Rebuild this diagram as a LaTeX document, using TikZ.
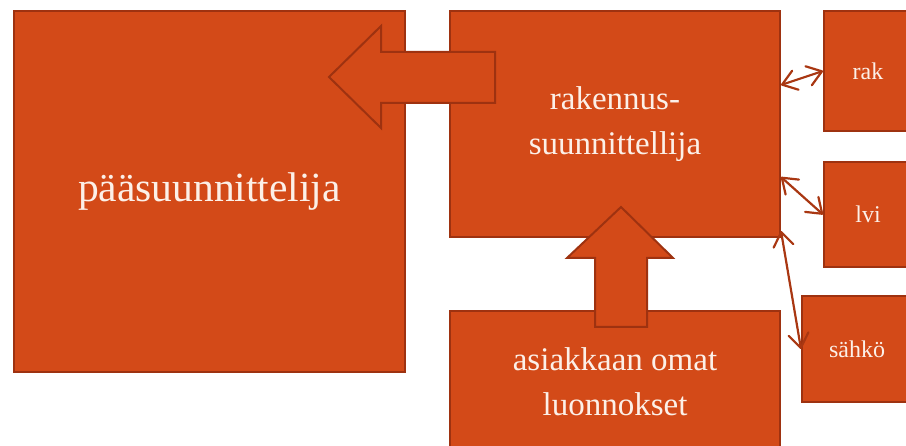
\documentclass[tikz,border=0pt]{standalone}
\usepackage{fontspec}
\setmainfont{Liberation Serif}
\usetikzlibrary{arrows.meta}
\definecolor{boxfill}{RGB}{211,74,24}
\definecolor{boxedge}{RGB}{158,50,16}
\definecolor{txt}{RGB}{252,240,232}
\tikzset{
  box/.style={rectangle, fill=boxfill, draw=boxedge, line width=2pt, text=txt, align=center, inner sep=0pt},
  big/.style={font=\fontsize{41.5}{48}\selectfont},
  mid/.style={font=\fontsize{33}{45}\selectfont},
  small/.style={font=\fontsize{24}{28}\selectfont},
  blockarrow/.style={fill=boxfill, draw=boxedge, line width=2pt, line join=miter},
  dbl/.style={draw=boxedge!80!boxfill, line width=2.2pt, line cap=round, {Straight Barb[length=14pt,width=20pt,round]}-{Straight Barb[length=14pt,width=20pt,round]}}
}
\begin{document}
\begin{tikzpicture}[x=1pt,y=-1pt]
\useasboundingbox (0,0) rectangle (906,446);
\clip (0,0) rectangle (906,446);
\node[box, big, minimum width=391pt, minimum height=361pt] (ps) at (209.5,191.5) {pääsuunnittelija};
\node[box, mid, minimum width=330pt, minimum height=226pt] (rk) at (615,124) {rakennus-\\suunnittellija};
\node[box, mid, minimum width=330pt, minimum height=141pt] (as) at (615,381.5) {asiakkaan omat\\luonnokset};
\node[box, small, minimum width=88pt, minimum height=120pt] (rak) at (868,71) {rak};
\node[box, small, minimum width=88pt, minimum height=105pt] (lvi) at (868,214.5) {lvi};
\node[box, small, minimum width=110pt, minimum height=106pt] (sahko) at (857,349) {sähkö};
% block arrows
\draw[blockarrow] (495,52) -- (381,52) -- (381,26) -- (329,77) -- (381,128) -- (381,103) -- (495,103) -- cycle;
\draw[blockarrow] (595,327) -- (595,258) -- (567,258) -- (621,207) -- (673,258) -- (647,258) -- (647,327) -- cycle;
% double arrows
\draw[dbl] ([yshift=-75pt]rk.north east) -- (rak.west);
\draw[dbl] ([yshift=-167pt]rk.north east) -- (lvi.west);
\draw[dbl] ([yshift=7pt]rk.south east) -- (sahko.west);
\end{tikzpicture}
\end{document}
